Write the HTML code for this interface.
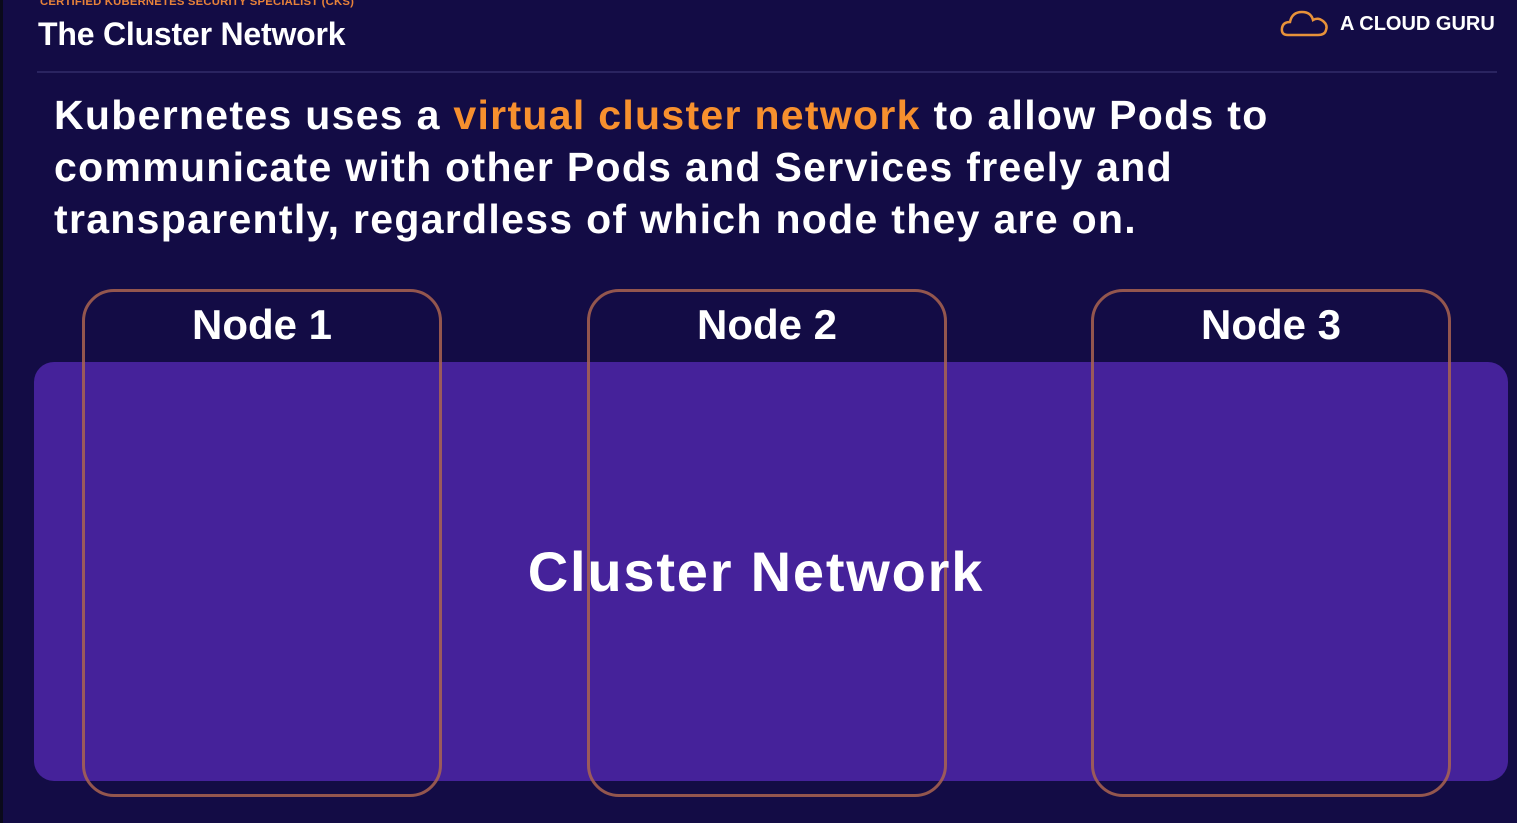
<!DOCTYPE html>
<html><head><meta charset="utf-8"><style>
*{margin:0;padding:0;box-sizing:border-box}
body{width:1517px;height:823px;background:#130c45;font-family:"Liberation Sans",Arial,sans-serif;position:relative;overflow:hidden;color:#fff}
.a{position:absolute;white-space:nowrap}
.node{position:absolute;top:289px;width:360px;height:508px;border:3px solid rgba(170,100,80,0.85);border-radius:32px}
.nl{position:absolute;top:300px;width:360px;text-align:center;font-weight:bold;font-size:42px;line-height:50px}
</style></head><body>
<div class="a" style="left:0;top:0;width:3px;height:823px;background:#0a0a1a"></div>
<div class="a" style="left:40px;top:-4px;font-size:11.3px;font-weight:bold;color:#e8823a;letter-spacing:0.2px">CERTIFIED KUBERNETES SECURITY SPECIALIST (CKS)</div>
<div class="a" style="left:38px;top:16px;font-size:32px;font-weight:bold;letter-spacing:-0.2px">The Cluster Network</div>
<div class="a" style="left:37px;top:71px;width:1460px;height:2px;background:#2a2460"></div>
<svg class="a" style="left:1280px;top:8px" width="50" height="30" viewBox="0 0 50 30"><path d="M8 27 Q1 27 2 20 Q3 14 10 14 Q12 4 22 4 Q31 4 33 12 Q38 9 43 13 Q48 17 46 22 Q45 27 38 27 Z" fill="none" stroke="#e8923a" stroke-width="2.5"/></svg>
<div class="a" style="left:1340px;top:13px;font-size:20px;font-weight:bold">A CLOUD GURU</div>
<div class="a" style="left:54px;top:89px;font-size:41px;font-weight:bold;line-height:52px;letter-spacing:1.3px">Kubernetes uses a <span style="color:#f7902e">virtual cluster network</span> to allow Pods to<br>communicate with other Pods and Services freely and<br>transparently, regardless of which node they are on.</div>
<div class="a" style="left:34px;top:362px;width:1474px;height:419px;background:#45229a;border-radius:20px"></div>
<div class="node" style="left:82px"></div>
<div class="node" style="left:587px"></div>
<div class="node" style="left:1091px"></div>
<div class="nl" style="left:82px">Node 1</div>
<div class="nl" style="left:587px">Node 2</div>
<div class="nl" style="left:1091px">Node 3</div>
<div class="a" style="left:0;width:1512px;top:539px;text-align:center;font-size:56px;font-weight:bold;line-height:66px;letter-spacing:1.8px">Cluster Network</div>
</body></html>
